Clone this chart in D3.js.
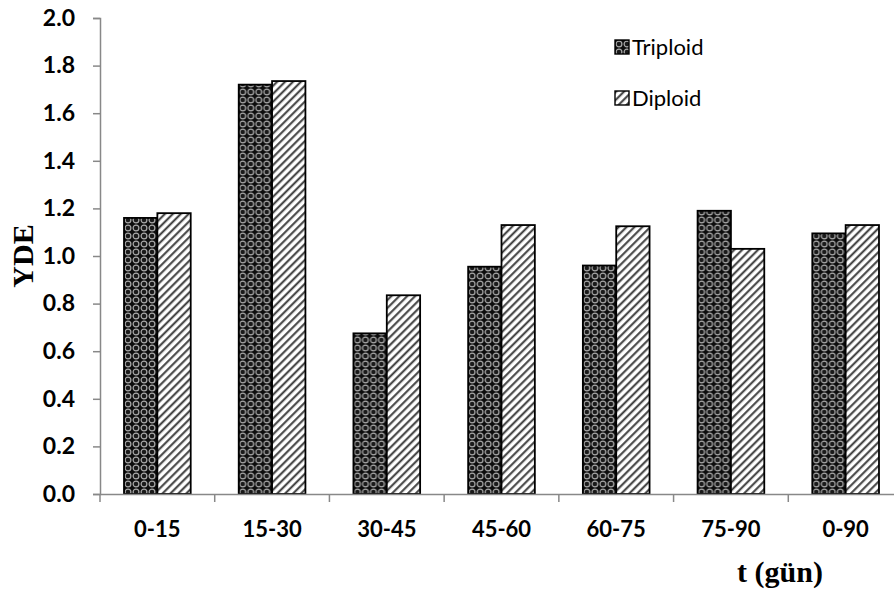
<!DOCTYPE html>
<html>
<head>
<meta charset="utf-8">
<script src="https://cdn.jsdelivr.net/npm/d3@7"></script>
<style>
  html, body { margin: 0; padding: 0; background: #fff; }
  svg { display: block; overflow: hidden; }
</style>
</head>
<body>
<svg id="chart" width="894" height="590"></svg>
<script>
const categories = ["0-15", "15-30", "30-45", "45-60", "60-75", "75-90", "0-90"];
const seriesNames = ["Triploid", "Diploid"];
const triploid = [1.16, 1.72, 0.675, 0.955, 0.96, 1.19, 1.095];
const diploid  = [1.18, 1.735, 0.835, 1.13, 1.125, 1.03, 1.13];
const yTicks = [0, 0.2, 0.4, 0.6, 0.8, 1.0, 1.2, 1.4, 1.6, 1.8, 2.0];

const svg = d3.select("#chart");
const mLeft = 100, mRight = 903, mTop = 18, mBottom = 494;

const defs = svg.append("defs");
// Triploid: dark pattern with light rings
const pt = defs.append("pattern").attr("id", "patT")
  .attr("patternUnits", "userSpaceOnUse").attr("width", 8).attr("height", 8);
pt.append("rect").attr("width", 8).attr("height", 8).attr("fill", "#0d0d0d");
pt.append("circle").attr("cx", 4).attr("cy", 4).attr("r", 2.9)
  .attr("fill", "#1a1a1a").attr("stroke", "#a8a8a8").attr("stroke-width", 1.2);
// Diploid: diagonal stripes
const pd = defs.append("pattern").attr("id", "patD")
  .attr("patternUnits", "userSpaceOnUse").attr("width", 5.6).attr("height", 5.6)
  .attr("patternTransform", "rotate(45)");
pd.append("rect").attr("width", 5.6).attr("height", 5.6).attr("fill", "#fff");
pd.append("line").attr("x1", 1.2).attr("y1", 0).attr("x2", 1.2).attr("y2", 5.6)
  .attr("stroke", "#3a3a3a").attr("stroke-width", 2);

const x0 = d3.scaleBand().domain(categories).range([mLeft, mRight]).paddingInner(0).paddingOuter(0);
const x1 = d3.scaleBand().domain(seriesNames).range([0, x0.bandwidth()]).paddingOuter(0.72).paddingInner(0);
const y = d3.scaleLinear().domain([0, 2]).range([mBottom, mTop]);

const data = categories.map((c, i) => ({ cat: c, values: [
  { key: "Triploid", v: triploid[i] },
  { key: "Diploid", v: diploid[i] }
]}));

const fills = { Triploid: "url(#patT)", Diploid: "url(#patD)" };

svg.append("g").selectAll("g").data(data).join("g")
  .attr("transform", d => `translate(${x0(d.cat)},0)`)
  .selectAll("rect").data(d => d.values).join("rect")
  .attr("x", d => x1(d.key))
  .attr("width", x1.bandwidth())
  .attr("y", d => y(d.v))
  .attr("height", d => y(0) - y(d.v))
  .attr("fill", d => fills[d.key])
  .attr("stroke", "#000").attr("stroke-width", 1.8);

const sansBold = (sel, size) => sel.attr("fill", "#000")
  .style("font-family", "Lato, 'Open Sans', sans-serif").style("font-weight", "bold").style("font-size", size + "px");

// Y axis
const yAxis = svg.append("g").attr("transform", `translate(${mLeft},0)`)
  .call(d3.axisLeft(y).tickValues(yTicks).tickFormat(d3.format(".1f")).tickSize(7).tickPadding(18));
yAxis.select(".domain").attr("stroke", "#888").attr("stroke-width", 1.5);
yAxis.selectAll(".tick line").attr("stroke", "#888").attr("stroke-width", 1.5);
yAxis.selectAll(".tick text").call(sansBold, 23);

// X axis
const xAxis = svg.append("g").attr("transform", `translate(0,${mBottom})`)
  .call(d3.axisBottom(x0).tickSize(0).tickPadding(27));
xAxis.select(".domain").attr("stroke", "#888").attr("stroke-width", 1.5);
xAxis.selectAll(".tick text").call(sansBold, 22);
// boundary ticks
const bounds = categories.map(c => x0(c));
svg.append("g").selectAll("line").data(bounds).join("line")
  .attr("x1", d => d).attr("x2", d => d)
  .attr("y1", mBottom).attr("y2", mBottom + 8)
  .attr("stroke", "#888").attr("stroke-width", 1.5);

// Axis titles
const serifBold = sel => sel
  .style("font-family", "'Liberation Serif', 'Times New Roman', serif").style("font-weight", "bold").style("font-size", "30px");
svg.append("text").attr("transform", `translate(33,${(mTop + mBottom) / 2}) rotate(-90)`)
  .attr("text-anchor", "middle").call(serifBold)
  .text("YDE");
svg.append("text").attr("x", 780).attr("y", 582).attr("text-anchor", "middle").call(serifBold)
  .text("t (gün)");

// Legend
const legend = svg.append("g").attr("transform", "translate(615,40)");
seriesNames.forEach((s, i) => {
  const g = legend.append("g").attr("transform", `translate(0,${i * 51})`);
  g.append("rect").attr("width", 14).attr("height", 14)
    .attr("fill", fills[s]).attr("stroke", "#000").attr("stroke-width", 1.4);
  g.append("text").attr("x", 17).attr("y", 14.5)
    .style("font-family", "Lato, 'Open Sans', sans-serif").style("font-size", "22px")
    .text(s);
});
</script>
</body>
</html>
